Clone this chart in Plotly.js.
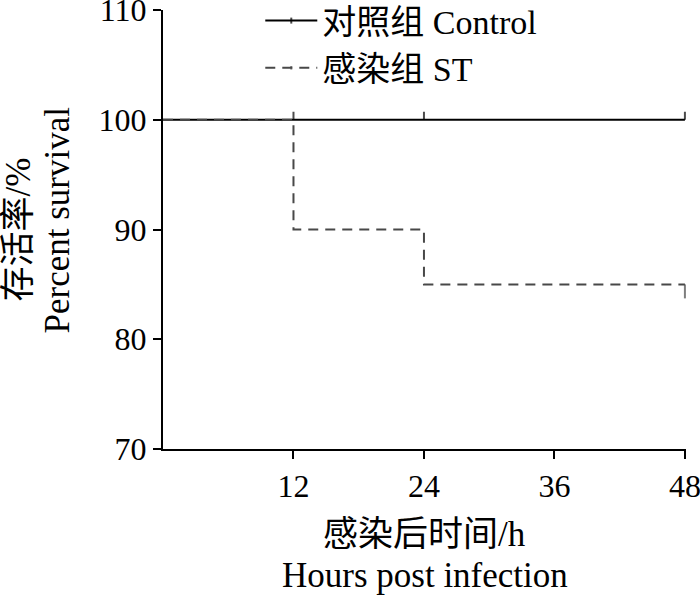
<!DOCTYPE html>
<html>
<head>
<meta charset="utf-8">
<script src="https://cdn.plot.ly/plotly-3.0.1.min.js"></script>
<style>html,body{margin:0;padding:0;background:#fff;}#chart{width:700px;height:595px;}</style>
</head>
<body>
<div id="chart"></div>
<script>
// ---- data ----
const hours = [0, 12, 24, 48];
const controlSurvival = [100, 100, 100, 100];
const stSurvival = [100, 90, 85, 85];
const controlCensorHours = [12, 24, 48];
const stCensorHours = [48];
const xTickVals = [12, 24, 36, 48];
const yTickVals = [70, 80, 90, 100, 110];
const seriesNames = ['对照组 Control', '感染组 ST'];
const xTitleLines = ['感染后时间/h', 'Hours post infection'];
const yTitleLines = ['存活率/%', 'Percent survival'];

// ---- censor marks drawn as markers on the step curve ----
// tick length in px: 1.4 * marker size for 'line-ns'
function censorMarker(xs, censorTimes, tickPx, up, color) {
  const size = xs.map(t => censorTimes.includes(t) ? tickPx / 1.4 : 0);
  return {
    symbol: 'line-ns', size: size,
    angle: up ? 180 : 0,
    standoff: xs.map(t => censorTimes.includes(t) ? tickPx / 2 : 0),
    line: {color: color, width: 2}, color: color
  };
}

const FONT = 'Liberation Serif, "Noto Sans CJK SC", serif';
const cControl = '#000000';
const cST = '#484848';

const traces = [
  {x: hours, y: controlSurvival, name: seriesNames[0], mode: 'lines+markers', cliponaxis: false,
   line: {shape: 'hv', color: cControl, width: 2},
   marker: censorMarker(hours, controlCensorHours, 8, true, cControl)},
  {x: hours, y: stSurvival, name: seriesNames[1], mode: 'lines+markers', cliponaxis: false,
   line: {shape: 'hv', color: cST, width: 2, dash: '10px,7px'},
   marker: censorMarker(hours, stCensorHours, 14, false, cST)}
];

const layout = {
  width: 700, height: 595,
  margin: {l: 163, r: 14, t: 10, b: 146, autoexpand: false},
  paper_bgcolor: '#fff', plot_bgcolor: '#fff',
  font: {family: FONT, size: 33, color: '#000'},
  showlegend: true,
  legend: {x: 0.186, xanchor: 'left', y: 1.041, yanchor: 'top',
           bgcolor: 'rgba(0,0,0,0)', font: {family: FONT, size: 34, color: '#000'},
           itemwidth: 52, tracegroupgap: 0},
  xaxis: {range: [0, 48.1], tickvals: xTickVals, ticktext: xTickVals.map(String),
          showline: true, linecolor: '#000', linewidth: 2, ticks: 'outside', ticklen: 8,
          tickwidth: 2, tickcolor: '#000', showgrid: false, zeroline: false,
          ticklabeloverflow: 'allow', automargin: false,
          tickfont: {family: FONT, size: 32, color: '#000'}, fixedrange: true},
  yaxis: {range: [70, 110], tickvals: yTickVals, ticktext: yTickVals.map(String),
          showline: true, linecolor: '#000', linewidth: 2, ticks: 'outside', ticklen: 8,
          tickwidth: 2, tickcolor: '#000', showgrid: false, zeroline: false,
          ticklabeloverflow: 'allow', automargin: false,
          tickfont: {family: FONT, size: 32, color: '#000'}, fixedrange: true},
  annotations: [
    {text: xTitleLines[0], xref: 'paper', yref: 'paper', x: 0.5, y: 0, xanchor: 'center', yanchor: 'middle',
     yshift: -85, showarrow: false, font: {family: FONT, size: 35, color: '#000'}},
    {text: xTitleLines[1], xref: 'paper', yref: 'paper', x: 0.5, y: 0, xanchor: 'center', yanchor: 'middle',
     yshift: -126, showarrow: false, font: {family: FONT, size: 35, color: '#000'}},
    {text: yTitleLines[0], xref: 'paper', yref: 'paper', x: 0, y: 0.5, xanchor: 'center', yanchor: 'middle',
     xshift: -145, yshift: 0, textangle: -90, showarrow: false, font: {family: FONT, size: 35, color: '#000'}},
    {text: yTitleLines[1], xref: 'paper', yref: 'paper', x: 0, y: 0.5, xanchor: 'center', yanchor: 'middle',
     xshift: -106, yshift: 9, textangle: -90, showarrow: false, font: {family: FONT, size: 35, color: '#000'}}
  ]
};

Plotly.newPlot('chart', traces, layout, {staticPlot: true, displayModeBar: false});
</script>
</body>
</html>
